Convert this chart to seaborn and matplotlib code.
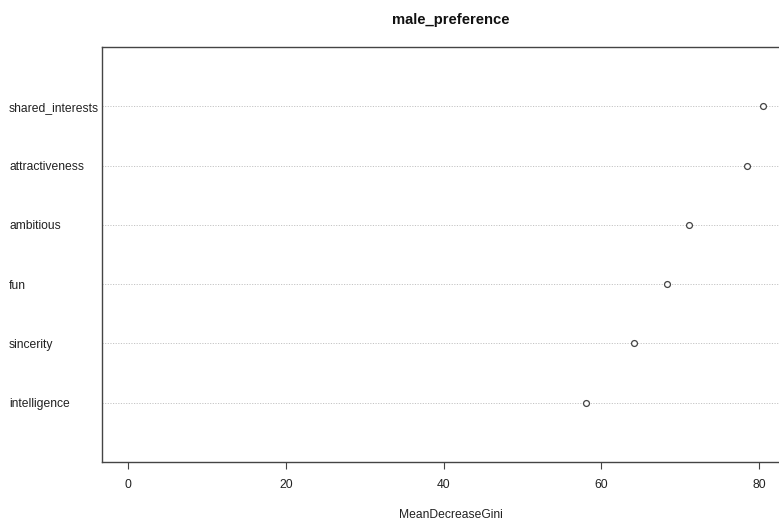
import matplotlib
matplotlib.use("Agg")
import matplotlib.pyplot as plt
import seaborn as sns
import pandas as pd

# Variable importance (MeanDecreaseGini), listed top to bottom
features = ["shared_interests", "attractiveness", "ambitious", "fun", "sincerity", "intelligence"]
importance = [80.5, 78.5, 71.1, 68.3, 64.2, 58.1]
x_ticks = [0, 20, 40, 60, 80]

sns.set_theme(style="white")
plt.rcParams["font.family"] = ["Liberation Sans", "DejaVu Sans"]

n = len(features)
df = pd.DataFrame({
    "feature": features,
    "MeanDecreaseGini": importance,
    "pos": list(range(n, 0, -1)),
})

W, H = 779, 521
fig = plt.figure(figsize=(W / 100, H / 100), dpi=100)
left, right, top, bottom = 102, 800, 47, 462
ax = fig.add_axes([left / W, 1 - bottom / H, (right - left) / W, (bottom - top) / H])

# dotted guide lines for each variable
for p in df["pos"]:
    ax.axhline(p, color="#c4c4c4", lw=0.7, ls=(0, (1.2, 1.5)), zorder=1)

sns.scatterplot(data=df, x="MeanDecreaseGini", y="pos", ax=ax, marker="o",
                s=18, facecolor="white", edgecolor="#444444", linewidth=0.9,
                zorder=3, legend=False)

px_per_unit = (759 - 128) / 80
ax.set_xlim((left - 128) / px_per_unit, (right - 128) / px_per_unit)
ax.set_ylim(0, n + 1)

ax.set_xticks(x_ticks)
ax.set_xticklabels([str(t) for t in x_ticks], fontsize=8.7, color="#222222")
ax.tick_params(axis="x", bottom=True, length=5, width=0.8, color="#444444", pad=7)

ax.set_yticks(df["pos"])
ax.set_yticklabels(df["feature"], fontsize=8.7, color="#222222")
ax.tick_params(axis="y", left=False, length=0, pad=(left - 9) * 0.72)
for lab in ax.get_yticklabels():
    lab.set_horizontalalignment("left")

ax.set_xlabel("MeanDecreaseGini", fontsize=8.7, color="#222222", labelpad=13)
ax.set_ylabel("")
ax.set_title("male_preference", fontsize=10.6, fontweight="bold", pad=16.5, color="#111111")

for side in ["left", "top", "bottom"]:
    ax.spines[side].set_visible(True)
    ax.spines[side].set_color("#444444")
    ax.spines[side].set_linewidth(1.0)
ax.spines["right"].set_visible(False)

fig.savefig("out.png", dpi=100)
